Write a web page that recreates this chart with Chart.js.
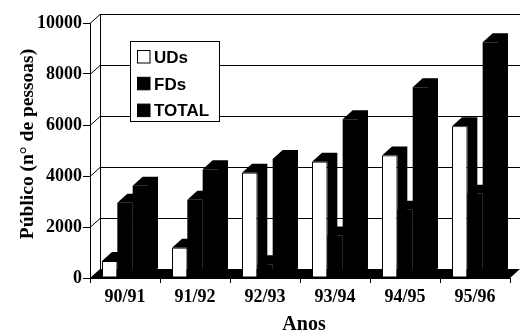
<!DOCTYPE html>
<html>
<head>
<meta charset="utf-8">
<script src="https://cdn.jsdelivr.net/npm/chart.js@4/dist/chart.umd.min.js"></script>
<style>
  html, body { margin: 0; padding: 0; background: #fff; }
  #wrap { width: 520px; height: 331px; position: relative; }
</style>
</head>
<body>
<div id="wrap"><canvas id="c" width="520" height="331"></canvas></div>
<script>
// Público por ano lectivo
const anos = ['90/91', '91/92', '92/93', '93/94', '94/95', '95/96'];
const uds = [670, 1190, 4130, 4560, 4800, 5950];
const fds = [2950, 3070, 540, 1670, 2680, 3300];
const total = [3620, 4260, 4670, 6230, 7480, 9250];
const yTicks = [0, 2000, 4000, 6000, 8000, 10000];

// depth offset of the pseudo-3D walls and bars
const DX = 10, DY = -9;

const depth3d = {
  id: 'depth3d',
  beforeDatasetsDraw(chart) {
    const { ctx, chartArea: a, scales } = chart;
    const ys = scales.y;
    ctx.save();
    ctx.strokeStyle = '#000';
    ctx.lineWidth = 1;
    // gridlines on the left and back walls
    yTicks.forEach(v => {
      if (v === 0) return;
      const py = Math.round(ys.getPixelForValue(v)) + 0.5;
      ctx.beginPath();
      ctx.moveTo(a.left, py);
      ctx.lineTo(a.left + DX, py + DY);
      ctx.lineTo(a.right + DX, py + DY);
      ctx.stroke();
    });
    // back-left edge
    const bx = a.left + DX + 0.5;
    ctx.beginPath();
    ctx.moveTo(bx, Math.round(a.top) + DY + 0.5);
    ctx.lineTo(bx, a.bottom + DY);
    ctx.stroke();
    // floor
    ctx.fillStyle = '#000';
    ctx.beginPath();
    ctx.moveTo(a.left, a.bottom);
    ctx.lineTo(a.right, a.bottom);
    ctx.lineTo(a.right + DX, a.bottom + DY);
    ctx.lineTo(a.left + DX, a.bottom + DY);
    ctx.closePath();
    ctx.fill();
    // top and side faces of every bar
    chart.getSortedVisibleDatasetMetas().slice().sort((m1, m2) => m1.index - m2.index).forEach(meta => {
      meta.data.forEach(bar => {
        const p = bar.getProps(['x', 'y', 'base', 'width'], true);
        const l = p.x - p.width / 2, r = p.x + p.width / 2;
        ctx.beginPath();
        ctx.moveTo(l, p.y);
        ctx.lineTo(l + DX, p.y + DY);
        ctx.lineTo(r + DX, p.y + DY);
        ctx.lineTo(r + DX, p.base + DY);
        ctx.lineTo(r, p.base);
        ctx.lineTo(r, p.y);
        ctx.closePath();
        ctx.fill();
      });
    });
    ctx.restore();
  },
  afterDraw(chart) {
    const { ctx } = chart;
    ctx.save();
    ctx.fillStyle = '#000';
    // axis titles
    ctx.font = 'bold 20px "Liberation Serif", "Times New Roman", serif';
    ctx.textAlign = 'center';
    ctx.textBaseline = 'alphabetic';
    ctx.fillText('Anos', 304, 330);
    ctx.translate(32.5, 144);
    ctx.rotate(-Math.PI / 2);
    ctx.font = 'bold 19.5px "Liberation Serif", "Times New Roman", serif';
    ctx.fillText('Público (n° de pessoas)', 0, 0);
    ctx.restore();

    // legend box
    ctx.save();
    ctx.fillStyle = '#fff';
    ctx.fillRect(130, 41, 89, 80);
    ctx.strokeStyle = '#000';
    ctx.lineWidth = 1;
    ctx.strokeRect(130.5, 41.5, 89, 80);
    ctx.font = 'bold 17px "Liberation Sans", Arial, sans-serif';
    ctx.textAlign = 'left';
    ctx.textBaseline = 'alphabetic';
    chart.data.datasets.forEach((ds, i) => {
      const sy = 50.5 + i * 26.8;
      ctx.fillStyle = ds.backgroundColor;
      ctx.fillRect(137.5, sy, 12.5, 12.5);
      ctx.strokeStyle = '#000';
      ctx.strokeRect(137.5, sy, 12.5, 12.5);
      ctx.fillStyle = '#000';
      ctx.fillText(ds.label, 154, 63 + i * 26.5);
    });
    ctx.restore();
  }
};

const serifBold = { family: '"Liberation Serif", "Times New Roman", serif', size: 18, weight: 'bold' };

new Chart(document.getElementById('c'), {
  type: 'bar',
  data: {
    labels: anos,
    datasets: [
      { label: 'UDs', data: uds, backgroundColor: '#ffffff', borderColor: '#000', borderWidth: 1, borderSkipped: false },
      { label: 'FDs', data: fds, backgroundColor: '#000000', borderWidth: 0 },
      { label: 'TOTAL', data: total, backgroundColor: '#000000', borderWidth: 0 }
    ]
  },
  options: {
    responsive: false,
    animation: false,
    events: [],
    layout: { padding: { top: 23, right: 10, left: 0, bottom: 0 } },
    datasets: { bar: { categoryPercentage: 0.657, barPercentage: 1.0 } },
    plugins: { legend: { display: false }, tooltip: { enabled: false } },
    scales: {
      x: {
        offset: true,
        grid: { offset: true, drawOnChartArea: false, drawTicks: true, tickLength: 5, color: '#000' },
        border: { display: true, color: '#000', width: 1 },
        ticks: { color: '#000', font: serifBold, padding: 4, maxRotation: 0 },
        afterFit(s) { s.height = 53; }
      },
      y: {
        min: 0, max: 10000,
        afterBuildTicks(s) { s.ticks = yTicks.map(v => ({ value: v })); },
        grid: { drawOnChartArea: false, drawTicks: true, tickLength: 7, color: '#000' },
        border: { display: true, color: '#000', width: 1 },
        ticks: { color: '#000', font: serifBold, padding: 1, callback: v => String(v) },
        afterFit(s) { s.width = 90; }
      }
    }
  },
  plugins: [depth3d]
});
</script>
</body>
</html>
